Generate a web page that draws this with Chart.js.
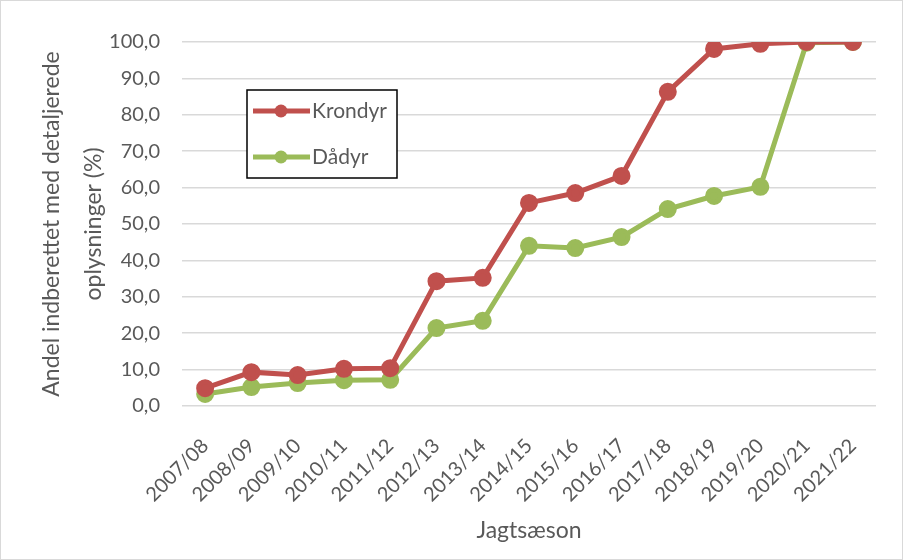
<!DOCTYPE html>
<html>
<head>
<meta charset="utf-8">
<script src="https://cdn.jsdelivr.net/npm/chart.js@4/dist/chart.umd.min.js"></script>
<style>
  html, body { margin: 0; padding: 0; background: #fff; }
  #wrap { width: 901px; height: 558px; border: 1px solid #d9d9d9; }
</style>
</head>
<body>
<div id="wrap"><canvas id="chart" width="901" height="558"></canvas></div>
<script>
// Jagtsæsoner
const seasons = ['2007/08', '2008/09', '2009/10', '2010/11', '2011/12', '2012/13', '2013/14',
  '2014/15', '2015/16', '2016/17', '2017/18', '2018/19', '2019/20', '2020/21', '2021/22'];
// andel indberettet med detaljerede oplysninger (%)
const krondyr = [4.9, 9.3, 8.5, 10.2, 10.4, 34.3, 35.2, 55.8, 58.5, 63.2, 86.3, 98.1, 99.5, 100.0, 100.0];
const daadyr = [3.3, 5.2, 6.3, 7.1, 7.2, 21.4, 23.4, 44.0, 43.4, 46.4, 54.1, 57.7, 60.2, 99.8, 100.0];

const FONT = 'Lato, "Open Sans", sans-serif';
const GREY = '#595959';

// legend box drawn inside the plot, like the Excel original
const boxLegend = {
  id: 'boxLegend',
  afterDraw(chart) {
    const c = chart.ctx;
    const a = chart.chartArea;
    const x = a.left + 65, y = a.top + 48, w = 150, h = 88;
    c.save();
    c.fillStyle = '#fff';
    c.fillRect(x, y, w, h);
    c.strokeStyle = '#000';
    c.lineWidth = 1.5;
    c.strokeRect(x, y, w, h);
    chart.data.datasets.forEach((ds, i) => {
      const ly = y + 21 + i * 46;
      c.strokeStyle = ds.borderColor;
      c.lineWidth = 5;
      c.beginPath();
      c.moveTo(x + 6, ly);
      c.lineTo(x + 63, ly);
      c.stroke();
      c.fillStyle = ds.borderColor;
      c.beginPath();
      c.arc(x + 34, ly, 6.5, 0, Math.PI * 2);
      c.fill();
      c.fillStyle = GREY;
      c.font = '21px ' + FONT;
      c.textBaseline = 'middle';
      c.fillText(ds.label, x + 65, ly);
    });
    c.restore();
  }
};

const ctx = document.getElementById('chart').getContext('2d');
const chart = new Chart(ctx, {
  type: 'line',
  data: {
    labels: seasons,
    datasets: [{
      label: 'Krondyr',
      data: krondyr,
      borderColor: '#C0504D',
      backgroundColor: '#C0504D',
      borderWidth: 5,
      pointRadius: 6.5,
      pointHoverRadius: 6.5,
      fill: false,
      tension: 0
    }, {
      label: 'Dådyr',
      data: daadyr,
      borderColor: '#9BBB59',
      backgroundColor: '#9BBB59',
      borderWidth: 5,
      pointRadius: 6.5,
      pointHoverRadius: 6.5,
      fill: false,
      tension: 0
    }]
  },
  options: {
    responsive: false,
    animation: false,
    layout: { padding: { left: 30, right: 26, top: 41, bottom: 15 } },
    plugins: {
      legend: { display: false },
      tooltip: { enabled: false }
    },
    scales: {
      x: {
        offset: true,
        grid: { display: false },
        border: { display: false },
        afterFit: s => { s.height = 138; },
        ticks: {
          color: GREY,
          font: { family: FONT, size: 20 },
          minRotation: 45,
          maxRotation: 45,
          autoSkip: false,
          padding: 20
        },
        title: {
          display: true,
          text: 'Jagtsæson',
          color: GREY,
          font: { family: FONT, size: 23 },
          padding: { top: 0, bottom: 0 }
        }
      },
      y: {
        min: 0,
        max: 100,
        afterFit: s => { s.width = 151; },
        ticks: {
          stepSize: 10,
          color: GREY,
          font: { family: FONT, size: 20 },
          padding: 22,
          callback: v => v.toFixed(1).replace('.', ',')
        },
        grid: { color: '#d9d9d9', lineWidth: 1.5, drawTicks: false },
        border: { display: false },
        title: {
          display: true,
          text: ['Andel indberettet med detaljerede', 'oplysninger (%)'],
          color: GREY,
          font: { family: FONT, size: 23, lineHeight: 1.8 },
          padding: { top: 0, bottom: 0 }
        }
      }
    }
  },
  plugins: [boxLegend]
});
</script>
</body>
</html>
